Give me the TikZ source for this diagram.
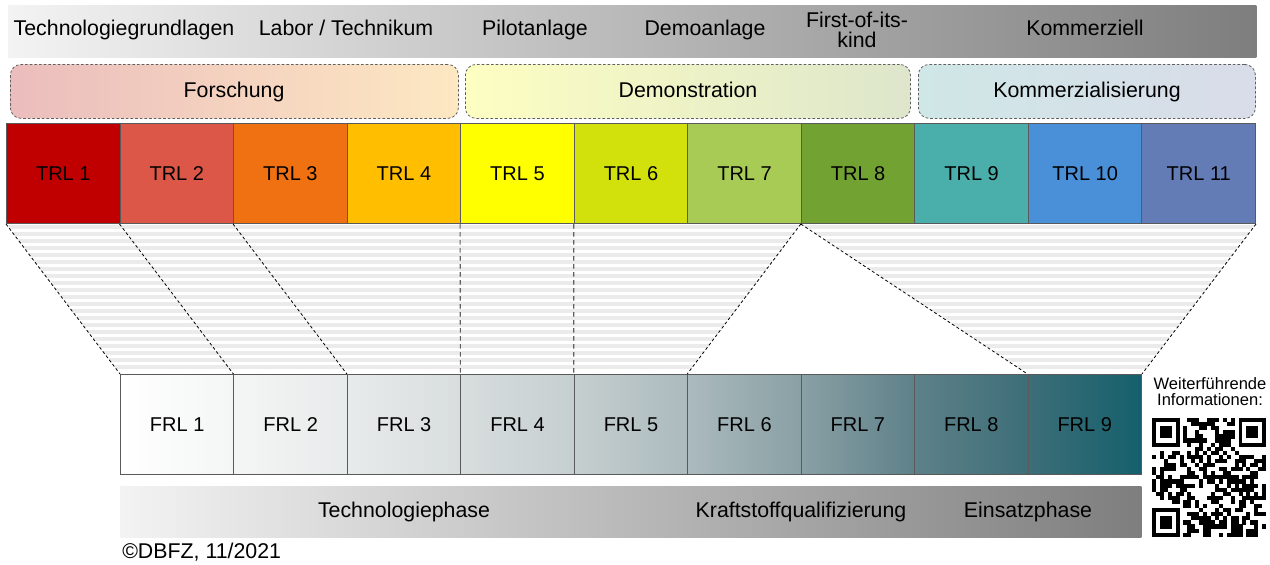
\documentclass[tikz,border=0pt]{standalone}
\usepackage{fontspec}
\setmainfont{Liberation Sans}
\definecolor{bordergray}{HTML}{5A5A5A}
\definecolor{dashgray}{HTML}{606060}
\definecolor{stripegray}{HTML}{EBEBEB}
\definecolor{barL}{HTML}{F3F3F3}
\definecolor{barR}{HTML}{7E7E7E}
\definecolor{forL}{HTML}{EBBDBD}
\definecolor{forR}{HTML}{FDE8C2}
\definecolor{demL}{HTML}{FDFEC2}
\definecolor{demR}{HTML}{DDE6CB}
\definecolor{komL}{HTML}{CFE7E6}
\definecolor{komR}{HTML}{D9DCE9}
\definecolor{trlA}{HTML}{C00000}
\definecolor{trlB}{HTML}{DC5748}
\definecolor{trlC}{HTML}{EF7112}
\definecolor{trlD}{HTML}{FFBE00}
\definecolor{trlE}{HTML}{FFFF00}
\definecolor{trlF}{HTML}{D2E10B}
\definecolor{trlG}{HTML}{A8CB55}
\definecolor{trlH}{HTML}{72A232}
\definecolor{trlI}{HTML}{4AAFAB}
\definecolor{trlJ}{HTML}{4A90D9}
\definecolor{trlK}{HTML}{647CB6}
\definecolor{fb0}{HTML}{FFFFFF}
\definecolor{fb1}{HTML}{F4F5F5}
\definecolor{fb2}{HTML}{E8EBEB}
\definecolor{fb3}{HTML}{D8DDDD}
\definecolor{fb4}{HTML}{C6CFD0}
\definecolor{fb5}{HTML}{ABBABD}
\definecolor{fb6}{HTML}{89A0A5}
\definecolor{fb7}{HTML}{5E8189}
\definecolor{fb8}{HTML}{3D6E78}
\definecolor{fb9}{HTML}{14606C}
\begin{document}
\begin{tikzpicture}[x=0.75pt,y=-0.75pt,
  font=\fontsize{15}{18}\selectfont,
  lbl/.style={inner sep=0pt, anchor=base, font=\fontsize{16}{18}\selectfont},
  bar/.style={inner sep=0pt, anchor=north west, minimum height=39pt, left color=barL, right color=barR},
  phase/.style={draw=dashgray, dashed, dash pattern=on 2pt off 1.5pt, line width=0.6pt, rounded corners=8pt, inner sep=0pt, anchor=north west, minimum height=40.5pt, minimum width=#1},
  trlbox/.style={draw=bordergray, line width=0.75pt, inner sep=0pt, anchor=north west, minimum width=85.16pt, minimum height=75pt},
  frlbox/.style={draw=bordergray, line width=0.75pt, inner sep=0pt, anchor=north west, minimum width=85.08pt, minimum height=75pt},
  map/.style={draw=black, line width=0.6pt, dash pattern=on 2.2pt off 1.8pt},
  vmap/.style={draw=dashgray, line width=0.8pt, dash pattern=on 3.5pt off 2.5pt}]
\useasboundingbox (0,0) rectangle (1270,564);

% top bar
\node[bar, minimum width=936pt] (topbar) at (8,5) {};
\node[lbl] (tg) at (124,36) {Technologiegrundlagen};
\node[lbl] (lt) at (346,36) {Labor / Technikum};
\node[lbl] (pa) at (535,36) {Pilotanlage};
\node[lbl] (da) at (705,36) {Demoanlage};
\node[inner sep=0pt, align=center, font=\fontsize{16}{14.5}\selectfont] (fk) at (857,30) {First-of-its-\\kind};
\node[lbl] (ko) at (1085,36) {Kommerziell};

% phase boxes
\node[phase=336pt, left color=forL, right color=forR] (forsch) at (10,64) {};
\node[lbl] at (234,97) {Forschung};
\node[phase=333.75pt, left color=demL, right color=demR] (demo) at (465,64) {};
\node[lbl] at (688,97) {Demonstration};
\node[phase=252.75pt, left color=komL, right color=komR] (komm) at (918,64) {};
\node[lbl] at (1087,97) {Kommerzialisierung};

% TRL row
\foreach \i/\c in {1/trlA,2/trlB,3/trlC,4/trlD,5/trlE,6/trlF,7/trlG,8/trlH,9/trlI,10/trlJ,11/trlK}
  \node[trlbox, fill=\c] (t\i) at ({6+113.545*(\i-1)},123) {TRL \i};

% FRL row
\foreach \i [evaluate=\i as \j using int(\i-1)] in {1,...,9}
  \node[frlbox, left color=fb\j, right color=fb\i] (f\i) at ({120+113.44*(\i-1)},374) {FRL \i};

% striped mapping areas
\begin{scope}
  \clip (t1.south west) -- (t8.south west) -- (f6.north west) -- (f1.north west) -- cycle;
  \foreach \y in {225,232,...,369} \fill[stripegray] (0,\y) rectangle (1270,\y+3.5);
\end{scope}
\begin{scope}
  \clip (t8.south west) -- (t11.south east) -- (f9.north east) -- (f9.north west) -- cycle;
  \foreach \y in {225,232,...,369} \fill[stripegray] (0,\y) rectangle (1270,\y+3.5);
\end{scope}

% mapping lines
\draw[map] (t1.south west) -- (f1.north west);
\draw[map] (t2.south west) -- (f2.north west);
\draw[map] (t3.south west) -- (f3.north west);
\draw[vmap] (t5.south west) -- (f4.north west);
\draw[vmap] (t6.south west) -- (f5.north west);
\draw[map] (t8.south west) -- (f6.north west);
\draw[map] (t8.south west) -- (f9.north west);
\draw[map] (t11.south east) -- (f9.north east);

% bottom bar
\node[bar, minimum width=765.75pt, minimum height=38.25pt] (botbar) at (120,486) {};
\node[lbl] (tp) at (404,517) {Technologiephase};
\node[lbl] (kq) at (801,517) {Kraftstoffqualifizierung};
\node[lbl] (ep) at (1028,517) {Einsatzphase};

\node[inner sep=0pt, anchor=base west, font=\fontsize{16}{18}\selectfont] (copy) at (122,558) {©DBFZ, 11/2021};

% info + QR
\node[inner sep=0pt, align=center, font=\fontsize{12.4}{12}\selectfont] (info) at (1210,392) {Weiterführende\\Informationen:};
\begin{scope}[shift={(1152,418)}, x=2.95pt, y=-3.07pt]
  \pgfmathsetseed{4711}
  \foreach \r in {0,...,28}{
    \foreach \c in {0,...,28}{
      \pgfmathtruncatemacro{\ex}{((\r<8)&&(\c<8)) || ((\r<8)&&(\c>20)) || ((\r>20)&&(\c<8))}
      \pgfmathrandominteger{\b}{0}{1}
      \ifnum\ex=0 \ifnum\b=1 \fill[black] (\c,\r) rectangle +(1.02,1.02); \fi\fi
    }
  }
  \foreach \px/\py in {0/0,22/0,0/22}{
    \fill[black] (\px,\py) rectangle +(7,7);
    \fill[white] (\px+1,\py+1) rectangle +(5,5);
    \fill[black] (\px+2,\py+2) rectangle +(3,3);
  }
\end{scope}
\end{tikzpicture}
\end{document}
